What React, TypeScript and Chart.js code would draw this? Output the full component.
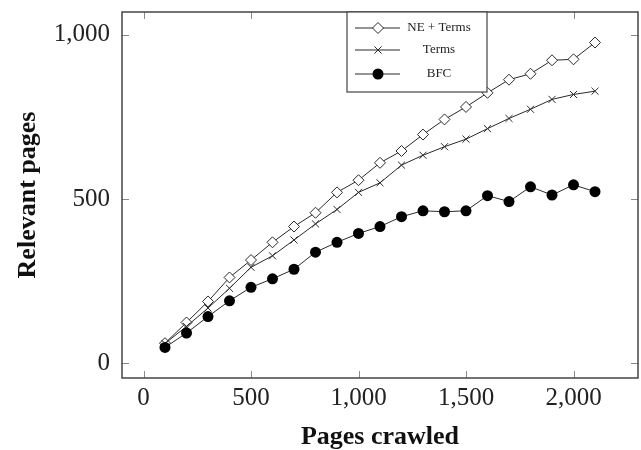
import React, { useEffect, useRef } from 'react';
import { Chart, registerables } from 'chart.js';

Chart.register(...registerables);

const pagesCrawled = [100, 200, 300, 400, 500, 600, 700, 800, 900, 1000, 1100, 1200, 1300, 1400, 1500, 1600, 1700, 1800, 1900, 2000, 2100];
const neTerms = [61, 124, 188, 261, 314, 368, 416, 458, 520, 557, 610, 646, 696, 742, 780, 823, 863, 881, 922, 925, 976];
const terms = [60, 112, 168, 228, 292, 327, 375, 424, 468, 520, 549, 603, 633, 659, 682, 714, 745, 773, 803, 818, 828];
const bfc = [48, 92, 142, 190, 231, 257, 286, 338, 368, 395, 416, 446, 464, 461, 464, 510, 492, 537, 512, 543, 522];
const xTicks = [0, 500, 1000, 1500, 2000];
const yTicks = [0, 500, 1000];
const seriesLabels = ['NE + Terms', 'Terms', 'BFC'];
const xTitle = 'Pages crawled';
const yTitle = 'Relevant pages';

const LINE = '#2a2a2a';
const SERIF = '"Liberation Serif", "Times New Roman", serif';

function drawMarker(ctx: CanvasRenderingContext2D, kind: string, x: number, y: number) {
  ctx.save();
  ctx.strokeStyle = LINE;
  ctx.lineWidth = 1;
  if (kind === 'diamond') {
    ctx.beginPath();
    ctx.moveTo(x, y - 5.5);
    ctx.lineTo(x + 5.5, y);
    ctx.lineTo(x, y + 5.5);
    ctx.lineTo(x - 5.5, y);
    ctx.closePath();
    ctx.fillStyle = '#fff';
    ctx.fill();
    ctx.stroke();
  } else if (kind === 'cross') {
    const d = 3.6;
    ctx.beginPath();
    ctx.moveTo(x - d, y - d);
    ctx.lineTo(x + d, y + d);
    ctx.moveTo(x - d, y + d);
    ctx.lineTo(x + d, y - d);
    ctx.stroke();
  } else {
    ctx.beginPath();
    ctx.arc(x, y, 5.5, 0, Math.PI * 2);
    ctx.fillStyle = '#000';
    ctx.fill();
  }
  ctx.restore();
}

const framePlugin = {
  id: 'pgfFrame',
  afterDraw(chart: any) {
    const { ctx, chartArea: a, scales } = chart;
    ctx.save();
    const line = (x1: number, y1: number, x2: number, y2: number) => {
      ctx.beginPath();
      ctx.moveTo(x1, y1);
      ctx.lineTo(x2, y2);
      ctx.stroke();
    };
    ctx.strokeStyle = '#8a8a8a';
    ctx.lineWidth = 1;
    const tl = 7;
    xTicks.forEach((v) => {
      const x = Math.round(scales.x.getPixelForValue(v)) + 0.5;
      line(x, a.bottom, x, a.bottom - tl);
      line(x, a.top, x, a.top + tl);
    });
    yTicks.forEach((v) => {
      const y = Math.round(scales.y.getPixelForValue(v)) + 0.5;
      line(a.left, y, a.left + tl, y);
      line(a.right, y, a.right - tl, y);
    });
    ctx.strokeStyle = '#444';
    ctx.lineWidth = 1.5;
    ctx.strokeRect(a.left, a.top, a.right - a.left, a.bottom - a.top);

    // legend box
    const lx = a.left + 225;
    const ly = a.top;
    const lw = 140;
    const lh = 80;
    ctx.fillStyle = '#fff';
    ctx.fillRect(lx, ly, lw, lh);
    ctx.strokeStyle = '#444';
    ctx.lineWidth = 1.2;
    ctx.strokeRect(lx, ly, lw, lh);
    const kinds = ['diamond', 'cross', 'circle'];
    const rows = [16, 38, 62];
    ctx.font = `13px ${SERIF}`;
    ctx.textAlign = 'center';
    ctx.textBaseline = 'middle';
    seriesLabels.forEach((lab, i) => {
      const yy = ly + rows[i];
      ctx.strokeStyle = LINE;
      ctx.lineWidth = 1;
      line(lx + 8, yy, lx + 53, yy);
      drawMarker(ctx, kinds[i], lx + 31, yy);
      ctx.fillStyle = '#222';
      ctx.fillText(lab, lx + 92, yy);
    });
    ctx.restore();
  },
};

export default function App() {
  const ref = useRef<HTMLCanvasElement>(null);
  useEffect(() => {
    document.body.style.margin = '0';
    const pts = (arr: number[]) => pagesCrawled.map((x, i) => ({ x, y: arr[i] }));
    const chart = new Chart(ref.current!, {
      type: 'line',
      data: {
        datasets: [
          {
            label: seriesLabels[0],
            data: pts(neTerms),
            borderColor: LINE,
            borderWidth: 1,
            pointStyle: 'rectRot',
            pointRadius: 5.5,
            pointBackgroundColor: '#fff',
            pointBorderColor: LINE,
            pointBorderWidth: 1,
            order: 3,
          },
          {
            label: seriesLabels[1],
            data: pts(terms),
            borderColor: LINE,
            borderWidth: 1,
            pointStyle: 'crossRot',
            pointRadius: 5,
            pointBorderColor: LINE,
            pointBorderWidth: 1,
            order: 2,
          },
          {
            label: seriesLabels[2],
            data: pts(bfc),
            borderColor: LINE,
            borderWidth: 1,
            pointStyle: 'circle',
            pointRadius: 5.5,
            pointBackgroundColor: '#000',
            pointBorderColor: '#000',
            pointBorderWidth: 0,
            order: 1,
          },
        ],
      },
      options: {
        responsive: false,
        animation: false,
        layout: { autoPadding: false, padding: { top: 12, right: 3, left: 0, bottom: 0 } },
        plugins: { legend: { display: false }, tooltip: { enabled: false } },
        scales: {
          x: {
            type: 'linear',
            min: -100,
            max: 2300,
            grid: { display: false, drawTicks: false },
            border: { display: false },
            afterBuildTicks: (s: any) => {
              s.ticks = xTicks.map((v) => ({ value: v }));
            },
            afterFit: (s: any) => {
              s.height = 72;
              s.paddingLeft = 0;
              s.paddingRight = 0;
              s.paddingTop = 0;
              s.paddingBottom = 0;
            },
            ticks: {
              padding: 5,
              color: '#222',
              font: { family: SERIF, size: 25 },
              callback: (v: any) => Number(v).toLocaleString('en-US'),
            },
            title: {
              display: true,
              text: xTitle,
              color: '#111',
              font: { family: SERIF, size: 26, weight: 'bold', lineHeight: 1 },
              padding: { top: 0, bottom: 0 },
            },
          },
          y: {
            type: 'linear',
            min: -45,
            max: 1069,
            grid: { display: false, drawTicks: false },
            border: { display: false },
            afterBuildTicks: (s: any) => {
              s.ticks = yTicks.map((v) => ({ value: v }));
            },
            afterFit: (s: any) => {
              s.width = 122;
              s.paddingLeft = 0;
              s.paddingRight = 0;
              s.paddingTop = 0;
              s.paddingBottom = 0;
            },
            ticks: {
              padding: 12,
              color: '#222',
              font: { family: SERIF, size: 25 },
              callback: (v: any) => Number(v).toLocaleString('en-US'),
            },
            title: {
              display: true,
              text: yTitle,
              color: '#111',
              font: { family: SERIF, size: 26, weight: 'bold', lineHeight: 1 },
              padding: { top: 15, bottom: 0 },
            },
          },
        },
      },
      plugins: [framePlugin],
    });
    return () => chart.destroy();
  }, []);
  return (
    <div style={{ width: 641, height: 450, background: '#fff' }}>
      <canvas ref={ref} width={641} height={450} style={{ display: 'block' }} />
    </div>
  );
}
